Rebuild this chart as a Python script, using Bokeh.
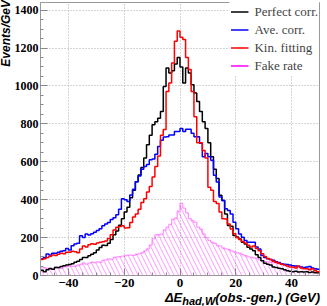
import math
from bokeh.plotting import figure
from bokeh.models import SingleIntervalTicker, Range1d, Legend, LegendItem, Div
from bokeh.layouts import column, row
from bokeh.embed import file_html
from bokeh.resources import INLINE

# lower edges of the 1 GeV bins
bin_left = list(range(-50, 50))

perfect = [
    28, 20, 30, 37, 33, 42, 42, 48, 52, 55,
    58, 62, 70, 75, 85, 95, 95, 104, 112, 120,
    135, 148, 160, 158, 170, 190, 215, 235, 265, 300,
    335, 360, 410, 450, 495, 530, 570, 620, 690, 740,
    795, 811, 829, 865, 997, 1094, 1068, 1080, 1115, 1150,
    1100, 1015, 1094, 1068, 1006, 962, 918, 865, 811, 776,
    700, 626, 560, 511, 423, 396, 325, 264, 260, 211,
    203, 193, 175, 166, 149, 140, 130, 110, 95, 78,
    65, 60, 55, 45, 42, 38, 35, 30, 25, 22,
    20, 22, 18, 20, 18, 20, 16, 18, 15, 14]

ave = [
    87, 95, 113, 108, 118, 118, 122, 128, 131, 143,
    135, 157, 166, 170, 210, 201, 219, 214, 220, 228,
    237, 246, 263, 272, 280, 295, 305, 320, 350, 405,
    400, 390, 425, 455, 495, 525, 560, 575, 585, 610,
    615, 640, 680, 714, 730, 732, 741, 741, 759, 759,
    776, 760, 771, 771, 750, 732, 732, 697, 626, 644,
    626, 608, 529, 493, 414, 396, 352, 343, 325, 281,
    246, 219, 202, 185, 175, 175, 175, 150, 140, 105,
    95, 88, 85, 80, 72, 68, 62, 60, 58, 55,
    52, 50, 48, 45, 42, 45, 48, 40, 35, 33]

kin = [
    85, 88, 95, 102, 108, 105, 112, 118, 115, 122,
    122, 128, 125, 120, 140, 155, 150, 162, 168, 165,
    172, 175, 178, 182, 195, 215, 240, 255, 258, 262,
    250, 252, 280, 308, 325, 350, 385, 405, 440, 470,
    520, 575, 630, 740, 770, 971, 1015, 1121, 1236, 1290,
    1257, 1245, 1150, 1086, 970, 838, 700, 700, 660, 620,
    465, 450, 390, 380, 335, 300, 298, 272, 245, 220,
    200, 190, 180, 172, 160, 150, 155, 143, 130, 115,
    100, 90, 85, 75, 70, 65, 60, 55, 50, 45,
    45, 40, 50, 40, 35, 35, 30, 35, 25, 20]

fake = [
    40, 42, 38, 35, 33, 45, 40, 38, 45, 48,
    50, 48, 50, 55, 58, 66, 60, 65, 70, 68,
    72, 70, 80, 82, 88, 85, 95, 98, 100, 102,
    105, 108, 108, 106, 112, 115, 120, 130, 140, 160,
    195, 215, 215, 218, 240, 255, 270, 296, 302, 340,
    380, 355, 330, 300, 290, 280, 255, 245, 220, 200,
    185, 175, 170, 158, 155, 145, 140, 138, 130, 125,
    120, 118, 110, 105, 98, 97, 93, 92, 82, 78,
    75, 72, 70, 68, 66, 62, 60, 58, 55, 52,
    50, 48, 45, 44, 42, 40, 38, 36, 35, 33]

series_labels = ["Perfect corr.", "Ave. corr.", "Kin. fitting", "Fake rate"]
y_title = "Events/GeV"
y_ticks_step = 200
x_ticks_step = 20

p = figure(width=316, height=290, output_backend="svg", toolbar_location=None,
           x_range=Range1d(-50, 50), y_range=Range1d(0, 1440),
           min_border_left=29, min_border_right=8, min_border_top=2, min_border_bottom=15)
p.background_fill_color = "white"
p.border_fill_color = "white"
p.outline_line_color = "#999999"

edges = bin_left + [bin_left[-1] + 1]
right = [b + 1 for b in bin_left]

# fake rate: hatched area + outline
p.quad(left=bin_left, right=right, bottom=0, top=fake, fill_alpha=0, line_alpha=0,
       hatch_pattern="\\", hatch_color="#ff00ff", hatch_alpha=0.4, hatch_scale=9, hatch_weight=1)
p.step(x=edges, y=fake + [fake[-1]], mode="after", line_color="#ff00ff", line_alpha=0.4, line_width=1.3)
r_black = p.step(x=edges, y=perfect + [perfect[-1]], mode="after", line_color="black", line_width=1.5)
r_blue = p.step(x=edges, y=ave + [ave[-1]], mode="after", line_color="#0000ff", line_width=1.5)
r_red = p.step(x=edges, y=kin + [kin[-1]], mode="after", line_color="#ff0000", line_width=1.5)
r_fake_leg = p.step(x=edges, y=fake + [fake[-1]], mode="after", line_color="#ff00ff", line_width=1.5,
                    visible=False)

legend = Legend(items=[LegendItem(label=series_labels[0], renderers=[r_black]),
                       LegendItem(label=series_labels[1], renderers=[r_blue]),
                       LegendItem(label=series_labels[2], renderers=[r_red]),
                       LegendItem(label=series_labels[3], renderers=[r_fake_leg])],
                location="top_right", margin=0, padding=1, spacing=1,
                glyph_width=18, glyph_height=17, label_height=17, label_standoff=6,
                label_text_font="Liberation Serif", label_text_font_size="13px",
                background_fill_color="white", background_fill_alpha=1.0, border_line_alpha=0,
                inactive_fill_alpha=0)
p.add_layout(legend)

for ax in (p.xaxis[0], p.yaxis[0]):
    ax.axis_line_color = "#999999"
    ax.major_tick_line_color = "#888888"
    ax.minor_tick_line_color = "#888888"
    ax.major_tick_in = 7
    ax.major_tick_out = 0
    ax.minor_tick_in = 3
    ax.minor_tick_out = 0
    ax.major_label_text_font = "Liberation Serif"
    ax.major_label_text_font_style = "bold"
    ax.major_label_text_color = "black"
p.xaxis[0].major_label_text_font_size = "13px"
p.yaxis[0].major_label_text_font_size = "12px"
p.xaxis[0].ticker = SingleIntervalTicker(interval=x_ticks_step, num_minor_ticks=4)
p.yaxis[0].ticker = SingleIntervalTicker(interval=y_ticks_step, num_minor_ticks=4)
p.xaxis[0].major_label_standoff = 3
p.yaxis[0].major_label_standoff = 2

for g in (p.xgrid[0], p.ygrid[0]):
    g.grid_line_color = "#aaaaaa"
    g.grid_line_dash = "1 2"
    g.grid_line_width = 1
p.xgrid[0].ticker = p.xaxis[0].ticker
p.ygrid[0].ticker = p.yaxis[0].ticker

# y-axis title, rotated, ending at the top of the axis
ytitle = Div(
    text=('<div style="position:relative;width:11px;height:306px">'
          '<div style="position:absolute;left:0;top:0;width:110px;height:13px;line-height:13px;'
          'text-align:right;transform-origin:0 0;transform:translate(0px,110px) rotate(-90deg);'
          'font-family:\'Liberation Sans\';font-weight:bold;font-style:italic;font-size:12px;'
          'white-space:nowrap;color:black">' + y_title + '</div></div>'),
    width=11, height=306, margin=0)

# x-axis title with subscript, right-aligned below the axis
xtitle = Div(
    text=('<div style="width:309px;font-family:\'Liberation Sans\';font-weight:bold;font-style:italic;'
          'font-size:13px;line-height:15px;text-align:right;white-space:nowrap;color:black">'
          '&Delta;E<sub style="font-size:11px;line-height:0;vertical-align:-3px">had,W</sub>'
          '(obs.-gen.) (GeV)</div>'),
    width=316, height=16, margin=0)

layout = row(ytitle, column(p, xtitle, spacing=0), spacing=0)
open("out.html", "w").write(file_html(layout, INLINE))
